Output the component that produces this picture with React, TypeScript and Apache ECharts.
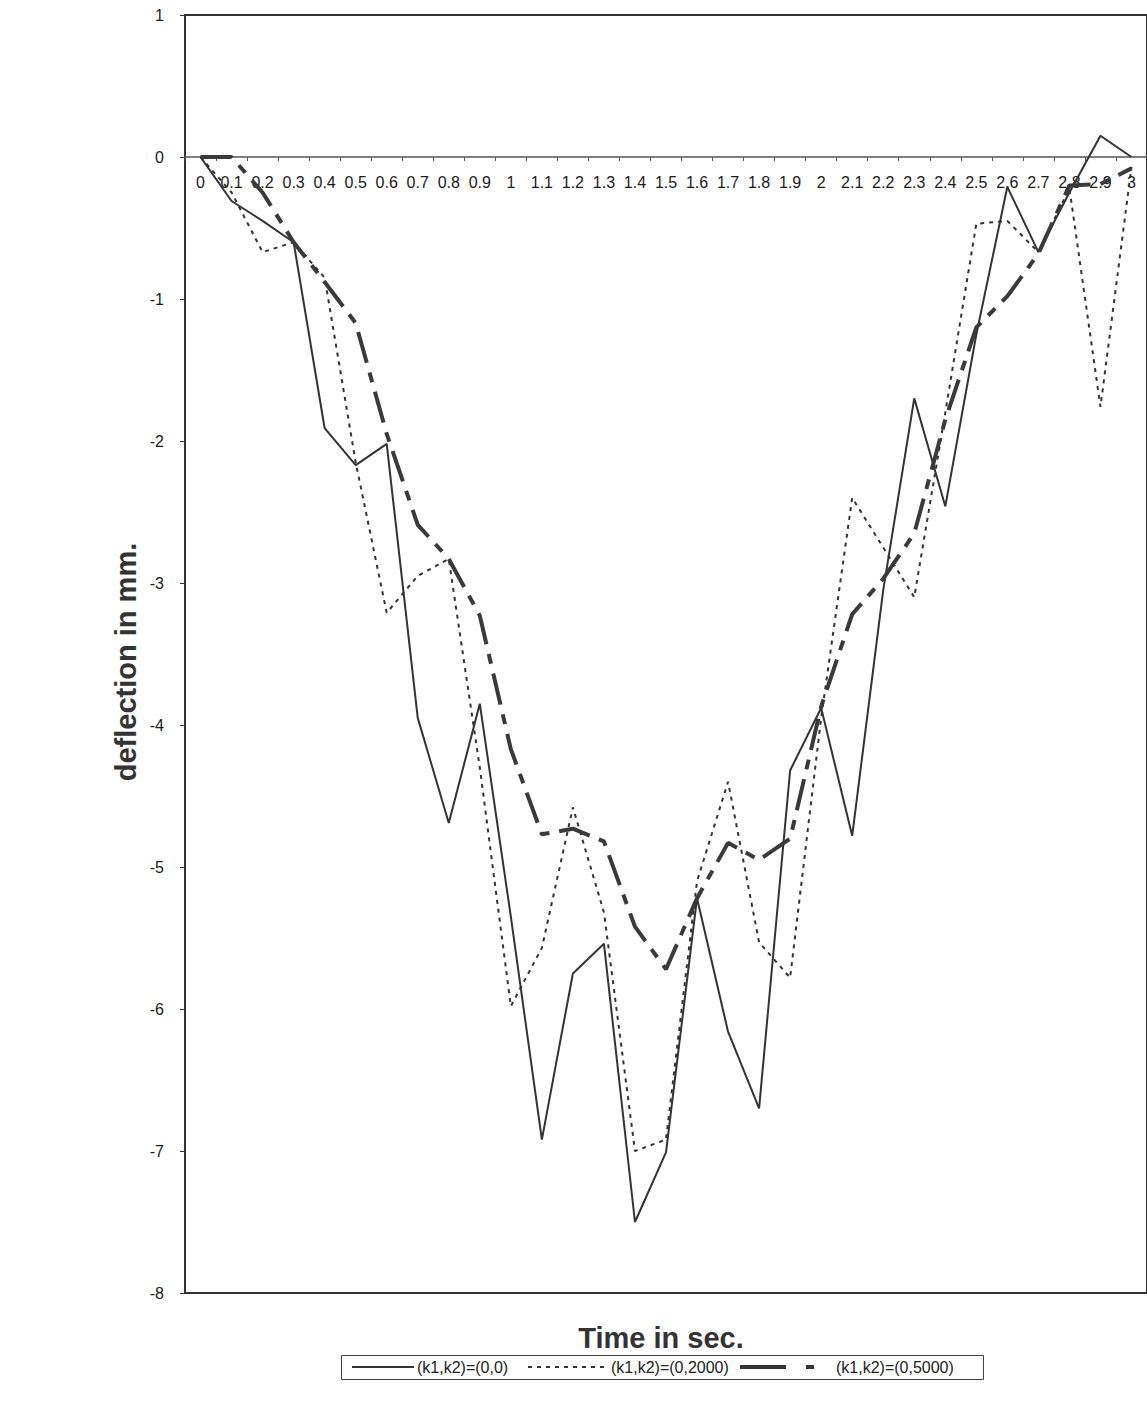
import React, { useEffect, useRef } from "react";
import * as echarts from "echarts";

const timeLabels = ["0","0.1","0.2","0.3","0.4","0.5","0.6","0.7","0.8","0.9","1","1.1","1.2","1.3","1.4","1.5","1.6","1.7","1.8","1.9","2","2.1","2.2","2.3","2.4","2.5","2.6","2.7","2.8","2.9","3"];

const k00 = [0, -0.31, -0.45, -0.6, -1.91, -2.17, -2.02, -3.95, -4.69, -3.85, -5.35, -6.92, -5.75, -5.54, -7.5, -7.01, -5.22, -6.16, -6.7, -4.32, -3.88, -4.78, -3.05, -1.7, -2.46, -1.25, -0.21, -0.67, -0.25, 0.15, 0];

const k02000 = [0, -0.25, -0.67, -0.6, -0.85, -2.15, -3.21, -2.95, -2.83, -4.3, -5.98, -5.57, -4.58, -5.32, -7.0, -6.92, -5.1, -4.4, -5.53, -5.78, -3.95, -2.4, -2.75, -3.1, -1.8, -0.47, -0.45, -0.67, -0.22, -1.76, -0.07];

const k05000 = [0, 0, -0.25, -0.6, -0.88, -1.17, -1.95, -2.59, -2.83, -3.23, -4.17, -4.77, -4.73, -4.82, -5.42, -5.72, -5.22, -4.83, -4.95, -4.8, -3.87, -3.22, -2.97, -2.65, -1.85, -1.2, -0.98, -0.68, -0.2, -0.19, -0.08];

const seriesNames = ["(k1,k2)=(0,0)", "(k1,k2)=(0,2000)", "(k1,k2)=(0,5000)"];

const FONT = "'Liberation Sans', Arial, sans-serif";
const INK = "#333333";
const DOT_DASH = [4, 5];
const LONG_DASH = [32, 10, 10, 10];

export default function App() {
  const ref = useRef<HTMLDivElement>(null);

  useEffect(() => {
    if (!ref.current) return;
    const chart = echarts.init(ref.current, null, { renderer: "svg" });

    const gridTop = 15;
    const gridH = 1278;
    const zeroOffset = -Math.round(gridH * (8 / 9));

    const legendY = 1367;
    const legendText = (text: string, x: number) => ({
      type: "text",
      x,
      y: legendY,
      style: {
        text,
        fontSize: 16,
        fontFamily: FONT,
        fill: "#222",
        align: "left",
        verticalAlign: "middle",
      },
    });

    chart.setOption({
      animation: false,
      backgroundColor: "#ffffff",
      grid: {
        left: 185,
        top: gridTop,
        width: 964,
        height: gridH,
        show: true,
        borderColor: "#333",
        borderWidth: 2,
        backgroundColor: "transparent",
      },
      xAxis: {
        type: "category",
        data: timeLabels,
        boundaryGap: true,
        offset: zeroOffset,
        axisLine: { onZero: false, lineStyle: { color: "#555", width: 1.5 } },
        axisTick: { show: true, length: 4, lineStyle: { color: "#555" } },
        axisLabel: {
          interval: 0,
          fontSize: 16,
          color: "#1a1a1a",
          fontFamily: FONT,
          margin: 17,
        },
        splitLine: { show: false },
      },
      yAxis: {
        type: "value",
        min: -8,
        max: 1,
        interval: 1,
        axisLine: { show: true, onZero: false, lineStyle: { color: "#333", width: 2 } },
        axisTick: { show: true, length: 5, lineStyle: { color: "#333" } },
        axisLabel: { fontSize: 16, color: "#1a1a1a", fontFamily: FONT, margin: 21 },
        splitLine: { show: false },
      },
      graphic: [
        {
          type: "text",
          x: 126,
          y: 662,
          rotation: Math.PI / 2,
          style: {
            text: "deflection in mm.",
            fontSize: 29,
            fontWeight: "bold",
            fontFamily: FONT,
            fill: "#333",
            align: "center",
            verticalAlign: "middle",
          },
        },
        {
          type: "text",
          x: 661,
          y: 1338,
          style: {
            text: "Time in sec.",
            fontSize: 29,
            fontWeight: "bold",
            fontFamily: FONT,
            fill: "#333",
            align: "center",
            verticalAlign: "middle",
          },
        },
        {
          type: "rect",
          shape: { x: 341.5, y: 1355.5, width: 642, height: 24 },
          style: { fill: "none", stroke: "#444", lineWidth: 1 },
        },
        {
          type: "line",
          shape: { x1: 352, y1: legendY, x2: 414, y2: legendY },
          style: { stroke: INK, lineWidth: 2 },
        },
        legendText(seriesNames[0], 417),
        {
          type: "line",
          shape: { x1: 528, y1: legendY, x2: 606, y2: legendY },
          style: { stroke: INK, lineWidth: 2, lineDash: DOT_DASH },
        },
        legendText(seriesNames[1], 611),
        {
          type: "line",
          shape: { x1: 740, y1: legendY, x2: 786, y2: legendY },
          style: { stroke: INK, lineWidth: 4 },
        },
        {
          type: "line",
          shape: { x1: 806, y1: legendY, x2: 814, y2: legendY },
          style: { stroke: INK, lineWidth: 4 },
        },
        legendText(seriesNames[2], 836),
      ],
      series: [
        {
          name: seriesNames[0],
          type: "line",
          data: k00,
          symbol: "none",
          lineStyle: { color: INK, width: 2, type: "solid" },
          itemStyle: { color: INK },
        },
        {
          name: seriesNames[1],
          type: "line",
          data: k02000,
          symbol: "none",
          lineStyle: { color: INK, width: 2, type: DOT_DASH },
          itemStyle: { color: INK },
        },
        {
          name: seriesNames[2],
          type: "line",
          data: k05000,
          symbol: "none",
          lineStyle: { color: "#3a3a3a", width: 4, type: LONG_DASH },
          itemStyle: { color: "#3a3a3a" },
        },
      ],
    });
    return () => chart.dispose();
  }, []);

  return (
    <div
      ref={ref}
      style={{ position: "absolute", left: 0, top: 0, width: 1147, height: 1414 }}
    />
  );
}
